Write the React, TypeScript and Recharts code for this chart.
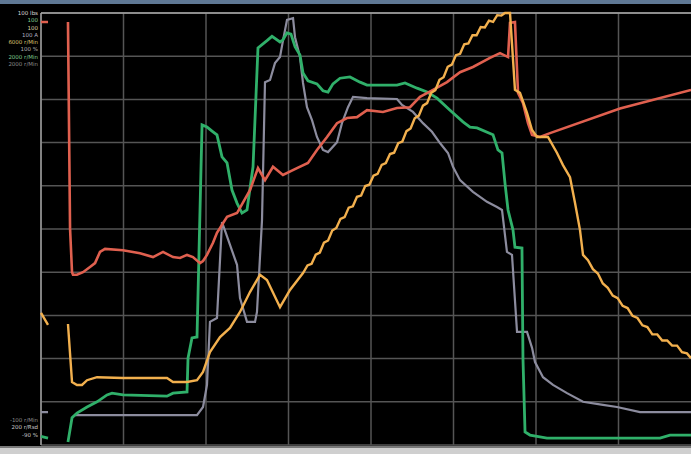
import { CartesianGrid, Line, LineChart, ReferenceLine, XAxis, YAxis } from "recharts";

// time axis: 10 units per division, value axis: 0..100 (10 per division)
const timeTicks = [0, 10, 20, 30, 40, 50, 60, 70, 80];
const valueTicks = [0, 10, 20, 30, 40, 50, 60, 70, 80, 90, 100];

type Pt = [number, number | null];

const redTrace: Pt[] = [
  [0, 97.9], [0.85, 97.9], [1.5, null],
  [3.27, 97.9], [3.52, 50.2], [3.76, 40.0], [3.88, 39.4], [4.36, 39.4], [5.09, 40.0],
  [5.94, 41.2], [6.55, 42.1], [7.15, 44.7], [7.76, 45.4], [9.94, 45.1], [12.0, 44.4],
  [13.58, 43.5], [14.79, 44.7], [16.0, 43.5], [16.85, 43.3], [17.7, 44.0], [18.42, 43.5],
  [19.27, 42.1], [19.64, 42.6], [20.12, 44.0], [20.85, 46.8], [21.33, 49.1], [22.55, 52.8],
  [23.76, 53.7], [25.33, 59.0], [26.3, 64.1], [27.15, 61.3], [28.12, 64.4], [29.33, 62.5],
  [31.03, 64.1], [32.36, 65.3], [33.45, 68.3], [34.67, 71.3], [35.88, 74.5], [37.09, 75.7],
  [38.3, 75.9], [39.52, 77.5], [41.45, 77.1], [43.15, 78.0], [44.73, 78.2], [45.94, 80.6],
  [47.52, 82.2], [49.21, 84.0], [50.79, 86.3], [52.36, 87.5], [54.42, 89.6], [55.64, 90.7],
  [56.61, 89.8], [56.85, 97.7], [57.45, 97.9], [57.82, 81.5], [58.42, 79.2], [59.03, 74.5],
  [59.52, 71.8], [60.48, 71.3], [61.7, 72.2], [70.18, 77.9], [78.79, 82.2],
];

const orangeTrace: Pt[] = [
  [0, 30.6], [0.85, 27.8], [1.5, null],
  [3.27, 28.0], [3.76, 14.6], [4.36, 13.9], [4.97, 13.9], [5.58, 15.0], [6.79, 15.7],
  [9.94, 15.5], [15.27, 15.5], [16.0, 14.6], [17.7, 14.6], [18.91, 15.0], [19.64, 16.9],
  [20.48, 21.5], [21.7, 25.0], [22.91, 27.1], [24.12, 30.8], [25.33, 35.4], [26.55, 39.4],
  [27.39, 38.2], [28.97, 31.9], [30.18, 35.9], [31.76, 39.8],
  [32.3, 41.55], [32.8, 41.95], [33.3, 44.05], [33.8, 44.55], [34.3, 46.85], [34.8, 47.35],
  [35.3, 49.65], [35.8, 50.25], [36.3, 52.35], [36.8, 52.75], [37.3, 54.95], [37.8, 55.25],
  [38.3, 57.45], [38.8, 57.75], [39.3, 59.95], [39.8, 60.25], [40.3, 62.35], [40.8, 62.75],
  [41.3, 64.85], [41.8, 65.25], [42.3, 67.35], [42.8, 67.65], [43.3, 69.85], [43.8, 70.25],
  [44.3, 72.65], [44.8, 73.25], [45.3, 75.65], [45.8, 76.25], [46.3, 78.55], [46.8, 79.15],
  [47.3, 81.55], [47.8, 82.15], [48.3, 84.55], [48.8, 85.15], [49.3, 87.55], [49.8, 88.05],
  [50.3, 90.25], [50.8, 90.55], [51.3, 92.75], [51.8, 92.95], [52.3, 94.85], [52.8, 94.85],
  [53.3, 96.75], [53.8, 96.65], [54.3, 98.25], [54.8, 97.95], [55.3, 99.5], [55.8, 99.4],
  [56.24, 100], [56.85, 100], [57.45, 82.2],
  [58.06, 81.5], [58.91, 76.9], [59.52, 72.9], [60.12, 71.3], [61.45, 71.3], [62.55, 67.6],
  [63.27, 64.8], [64.12, 62.0], [64.73, 56.0], [65.33, 49.8], [65.7, 44.0],
  [66.3, 42.8], [66.9, 40.7], [67.5, 39.7], [68.1, 37.4], [68.7, 36.4], [69.3, 34.6],
  [69.9, 34.0], [70.5, 32.2], [71.1, 31.7], [71.7, 29.9], [72.3, 29.4], [72.9, 27.7],
  [73.5, 27.3], [74.1, 25.6], [74.7, 25.6], [75.3, 24.2], [75.9, 24.2], [76.5, 23.0],
  [77.1, 23.0], [77.7, 21.5], [78.3, 21.2], [78.79, 20.1],
];

const greenTrace: Pt[] = [
  [0, 2.0], [0.85, 1.6], [1.5, null],
  [3.27, 0.7], [3.76, 6.3], [4.36, 7.4], [5.58, 8.8], [6.79, 10.0], [8.0, 11.6], [8.61, 12.0],
  [9.94, 11.6], [15.27, 11.3], [16.0, 12.0], [17.7, 12.3], [17.82, 20.1], [18.3, 24.8],
  [18.91, 25.0], [19.52, 74.1], [20.12, 73.6], [20.85, 72.5], [21.33, 71.8], [21.94, 66.7],
  [22.55, 65.3], [23.15, 59.0], [23.76, 56.0], [24.36, 53.7], [24.97, 54.4], [25.7, 64.4],
  [26.3, 91.9], [27.39, 93.6], [28.0, 94.6], [28.97, 93.3], [29.33, 93.8], [29.82, 95.4],
  [30.3, 95.1], [30.79, 92.2], [31.39, 90.3], [31.76, 86.1], [32.36, 84.3], [33.45, 83.6],
  [34.18, 82.0], [34.79, 81.7], [35.39, 83.6], [36.24, 84.9], [37.45, 85.2], [38.67, 84.0],
  [39.52, 83.3], [41.45, 83.3], [43.15, 83.3], [44.12, 83.8], [45.58, 82.6], [46.79, 81.7],
  [48.0, 80.3], [49.58, 77.5], [51.15, 74.8], [52.0, 73.6], [52.85, 73.4], [54.79, 71.8],
  [55.39, 68.3], [55.88, 67.6], [56.24, 60.6], [56.61, 54.4], [57.21, 49.8], [57.45, 45.8],
  [58.3, 45.6], [58.42, 20.1], [58.67, 3.0], [59.27, 2.3], [61.33, 1.6], [75.03, 1.6],
  [76.24, 2.3], [78.79, 2.3],
];

const greyTrace: Pt[] = [
  [0, 7.6], [0.85, 7.6], [1.5, null],
  [4.12, 6.9], [18.91, 6.9], [19.64, 8.8], [20.12, 13.9], [20.48, 28.5], [21.33, 29.4],
  [21.94, 51.6], [22.91, 46.3], [23.76, 41.7], [24.12, 34.0], [24.97, 28.5], [25.94, 28.5],
  [26.18, 30.8], [26.79, 52.1], [27.15, 84.0], [27.76, 84.5], [28.36, 88.4], [28.97, 89.8],
  [29.33, 93.6], [29.82, 98.4], [30.55, 98.8], [30.79, 94.4], [31.39, 89.8], [31.76, 83.8],
  [32.24, 78.2], [32.85, 75.2], [33.45, 71.3], [34.18, 68.3], [34.79, 67.8], [35.88, 70.1],
  [36.48, 74.5], [37.21, 78.2], [37.82, 80.6], [39.52, 80.3], [43.15, 80.1], [43.76, 78.7],
  [45.09, 77.1], [46.3, 74.5], [47.39, 72.5], [48.36, 69.9], [49.33, 67.6], [49.94, 64.4],
  [50.79, 61.3], [52.36, 58.6], [54.06, 56.3], [55.27, 55.1], [55.88, 54.4], [56.24, 48.6],
  [56.48, 44.7], [57.09, 44.0], [57.7, 26.2], [58.91, 26.2], [59.52, 22.5], [59.88, 19.2],
  [60.85, 15.7], [62.06, 13.9], [63.76, 12.0], [65.7, 10.0], [68.12, 9.3], [69.82, 8.8],
  [72.61, 7.6], [78.79, 7.6],
];

const topLabels = [
  { text: "100 lbs", color: "#d8d8d8" },
  { text: "100", color: "#7fc98f" },
  { text: "100", color: "#d8d0a0" },
  { text: "100 A", color: "#b0b0c0" },
  { text: "6000 r/Min", color: "#d8c070" },
  { text: "100 %", color: "#b0b0b0" },
  { text: "2000 r/Min", color: "#7fc98f" },
  { text: "2000 r/Min", color: "#8a8a8a" },
];
const bottomLabels = [
  { text: "-100 r/Min", color: "#8a8a8a" },
  { text: "200 r/Rsd", color: "#c8c8c8" },
  { text: "-90 %", color: "#c8c8c8" },
];

const toPoints = (trace: Pt[]) => trace.map(([t, v]) => ({ t, v }));

export default function App() {
  return (
    <div
      style={{
        position: "fixed",
        left: 0,
        top: 0,
        width: 691,
        height: 454,
        overflow: "hidden",
        background: "#000",
        fontFamily: "DejaVu Sans, sans-serif",
      }}
    >
      <div style={{ position: "absolute", left: 0, top: 0, width: 691, height: 4, background: "#5f7894" }} />
      <LineChart width={710} height={454} margin={{ top: 13, right: 9, bottom: 9, left: 41 }}>
        <CartesianGrid stroke="#555" strokeWidth={1.5} />
        <XAxis type="number" dataKey="t" domain={[0, 80]} ticks={timeTicks} hide />
        <YAxis type="number" dataKey="v" domain={[0, 100]} ticks={valueTicks} hide />
        <ReferenceLine x={0} stroke="#9a9a9a" strokeWidth={1.5} />
        <ReferenceLine y={100} stroke="#a8a8a8" strokeWidth={1.5} />
        <Line data={toPoints(greyTrace)} dataKey="v" stroke="#8c8c9e" strokeWidth={2.2} dot={false} isAnimationActive={false} />
        <Line data={toPoints(greenTrace)} dataKey="v" stroke="#30b06a" strokeWidth={2.8} dot={false} isAnimationActive={false} />
        <Line data={toPoints(redTrace)} dataKey="v" stroke="#e0604f" strokeWidth={2.6} dot={false} isAnimationActive={false} />
        <Line data={toPoints(orangeTrace)} dataKey="v" stroke="#f2b04e" strokeWidth={2.4} dot={false} isAnimationActive={false} />
      </LineChart>
      <div style={{ position: "absolute", left: 0, top: 10, width: 38, textAlign: "right", fontSize: 5.5, lineHeight: "7.3px" }}>
        {topLabels.map((l, i) => (
          <div key={i} style={{ color: l.color, whiteSpace: "nowrap" }}>{l.text}</div>
        ))}
      </div>
      <div style={{ position: "absolute", left: 0, top: 417, width: 38, textAlign: "right", fontSize: 5.5, lineHeight: "7.3px" }}>
        {bottomLabels.map((l, i) => (
          <div key={i} style={{ color: l.color, whiteSpace: "nowrap" }}>{l.text}</div>
        ))}
      </div>
      <div style={{ position: "absolute", left: 0, top: 446, width: 691, height: 2, background: "#7a7a7a" }} />
      <div style={{ position: "absolute", left: 0, top: 448, width: 691, height: 6, background: "#cfcfcf" }} />
    </div>
  );
}
